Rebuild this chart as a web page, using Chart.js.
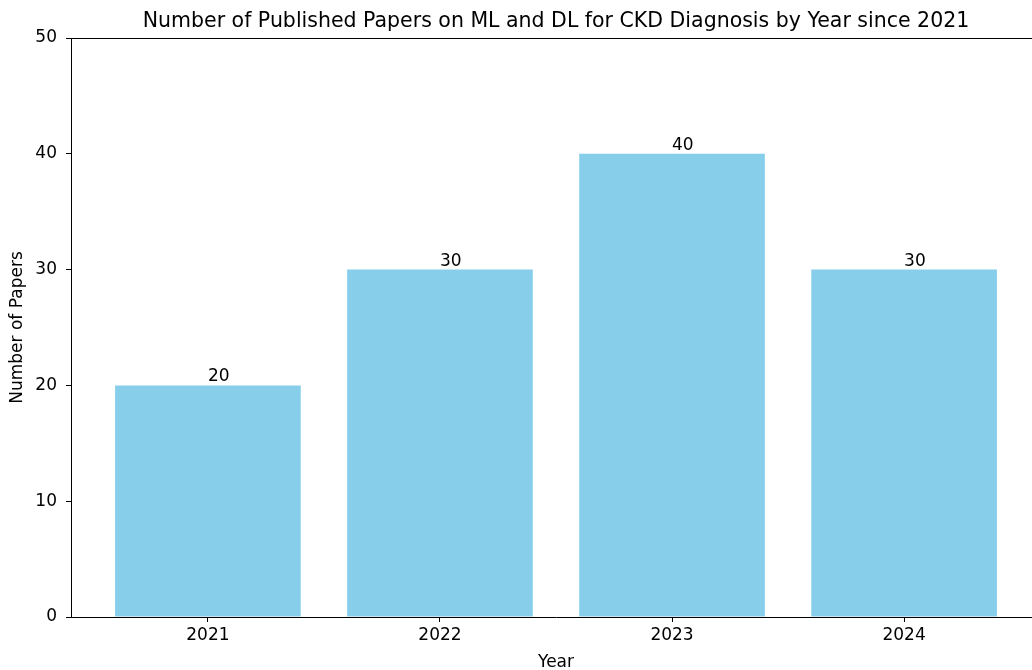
<!DOCTYPE html>
<html>
<head>
<meta charset="utf-8">
<script src="https://cdn.jsdelivr.net/npm/chart.js@4"></script>
<style>
  html, body { margin: 0; padding: 0; overflow: hidden; background: #fff; width: 1032px; height: 670px; }
  #wrap { position: relative; width: 1050px; height: 670px; }
</style>
</head>
<body>
<div id="wrap"><canvas id="chart"></canvas></div>
<script>
// data
const years = ["2021", "2022", "2023", "2024"];
const papers = [20, 30, 40, 30];
const yTicks = [0, 10, 20, 30, 40, 50];
const chartTitle = "Number of Published Papers on ML and DL for CKD Diagnosis by Year since 2021";

const font = "'DejaVu Sans', sans-serif";

// title over the axes, top spine, value labels on the bars
const extras = {
  id: "extras",
  afterDatasetsDraw(chart) {
    const ctx = chart.ctx;
    const area = chart.chartArea;
    ctx.save();
    ctx.strokeStyle = "#000";
    ctx.lineWidth = 1;
    ctx.beginPath();
    ctx.moveTo(area.left, area.top + 0.5);
    ctx.lineTo(area.right, area.top + 0.5);
    ctx.stroke();

    ctx.fillStyle = "#000";
    ctx.font = "20.5px " + font;
    ctx.textAlign = "center";
    ctx.textBaseline = "alphabetic";
    ctx.fillText(chartTitle, (area.left + area.right) / 2, 27);

    // plt.text default: left aligned at bar centre
    ctx.font = "17px " + font;
    ctx.textAlign = "left";
    chart.getDatasetMeta(0).data.forEach((bar, i) => {
      ctx.fillText(String(papers[i]), bar.x, bar.y - 4);
    });
    ctx.restore();
  }
};

new Chart(document.getElementById("chart"), {
  type: "bar",
  data: {
    datasets: [{
      data: papers.map((v, i) => ({ x: i, y: v })),
      backgroundColor: "#87CEEB",
      borderWidth: 0,
      barPercentage: 1,
      categoryPercentage: 0.8
    }]
  },
  options: {
    responsive: true,
    maintainAspectRatio: false,
    animation: false,
    layout: { padding: { left: 0, right: 9, top: 38, bottom: 0 } },
    plugins: {
      legend: { display: false },
      tooltip: { enabled: false },
      title: { display: false }
    },
    scales: {
      x: {
        type: "linear",
        offset: false,
        min: -0.59,
        max: 3.59,
        afterBuildTicks: axis => { axis.ticks = years.map((_, i) => ({ value: i })); },
        afterFit: axis => { axis.height = 53; },
        ticks: {
          color: "#000",
          font: { family: font, size: 17 },
          padding: 3,
          maxRotation: 0,
          callback: v => years[v]
        },
        grid: { drawOnChartArea: false, offset: false, tickLength: 5, color: "#000" },
        border: { color: "#000", width: 1 },
        title: {
          display: true,
          text: "Year",
          color: "#000",
          font: { family: font, size: 17 },
          padding: { top: 0, bottom: -3 }
        }
      },
      y: {
        min: 0,
        max: 50,
        afterBuildTicks: axis => { axis.ticks = yTicks.map(v => ({ value: v })); },
        afterFit: axis => { axis.width = 71; },
        ticks: {
          color: "#000",
          font: { family: font, size: 17 },
          padding: 9
        },
        grid: { drawOnChartArea: false, tickLength: 5, color: "#000" },
        border: { color: "#000", width: 1 },
        title: {
          display: true,
          text: "Number of Papers",
          color: "#000",
          font: { family: font, size: 17 },
          padding: { top: 7, bottom: 0 }
        }
      }
    }
  },
  plugins: [extras]
});
</script>
</body>
</html>
